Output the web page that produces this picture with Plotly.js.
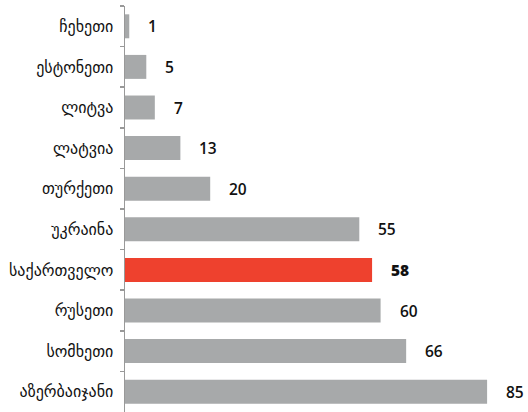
<!DOCTYPE html>
<html>
<head>
<meta charset="utf-8">
<script src="https://cdn.plot.ly/plotly-3.0.1.min.js"></script>
<style>html,body{margin:0;padding:0;background:#fff;}#chart{width:528px;height:412px;}</style>
</head>
<body>
<div id="chart"></div>
<script>
const countries = ["ჩეხეთი","ესტონეთი","ლიტვა","ლატვია","თურქეთი","უკრაინა","საქართველო","რუსეთი","სომხეთი","აზერბაიჯანი"];
const values = [1,5,7,13,20,55,58,60,66,85];
const highlight = "საქართველო";

const colors = countries.map(c => c === highlight ? "#ee412e" : "#a7a9aa");

const trace = {
  type: "bar",
  orientation: "h",
  y: countries,
  x: values,
  marker: {color: colors, line: {width: 0}},
  hoverinfo: "skip"
};

const annotations = countries.map((c, i) => ({
  x: values[i], y: c, xref: "x", yref: "y",
  text: String(values[i]),
  showarrow: false, xanchor: "left", yanchor: "middle", xshift: 17,
  font: {family: "Open Sans, sans-serif", size: 15.5, color: "#111", weight: c === highlight ? 800 : 600}
}));

const layout = {
  width: 528, height: 412,
  margin: {l: 125, r: 0, t: 6, b: 0},
  paper_bgcolor: "#fff", plot_bgcolor: "#fff",
  bargap: 0.41,
  showlegend: false,
  xaxis: {range: [0, 94.6], visible: false, fixedrange: true},
  yaxis: {
    autorange: "reversed",
    showline: true, linecolor: "#999", linewidth: 1.5,
    ticks: "outside", ticklen: 4, tickcolor: "#999", tickwidth: 1.5,
    tickson: "boundaries",
    ticklabelstandoff: 7,
    showgrid: false, zeroline: false,
    tickfont: {family: "DejaVu Sans, sans-serif", size: 16, color: "#111"}
  },
  annotations: annotations
};

Plotly.newPlot("chart", [trace], layout, {displayModeBar: false, staticPlot: true});
</script>
</body>
</html>
